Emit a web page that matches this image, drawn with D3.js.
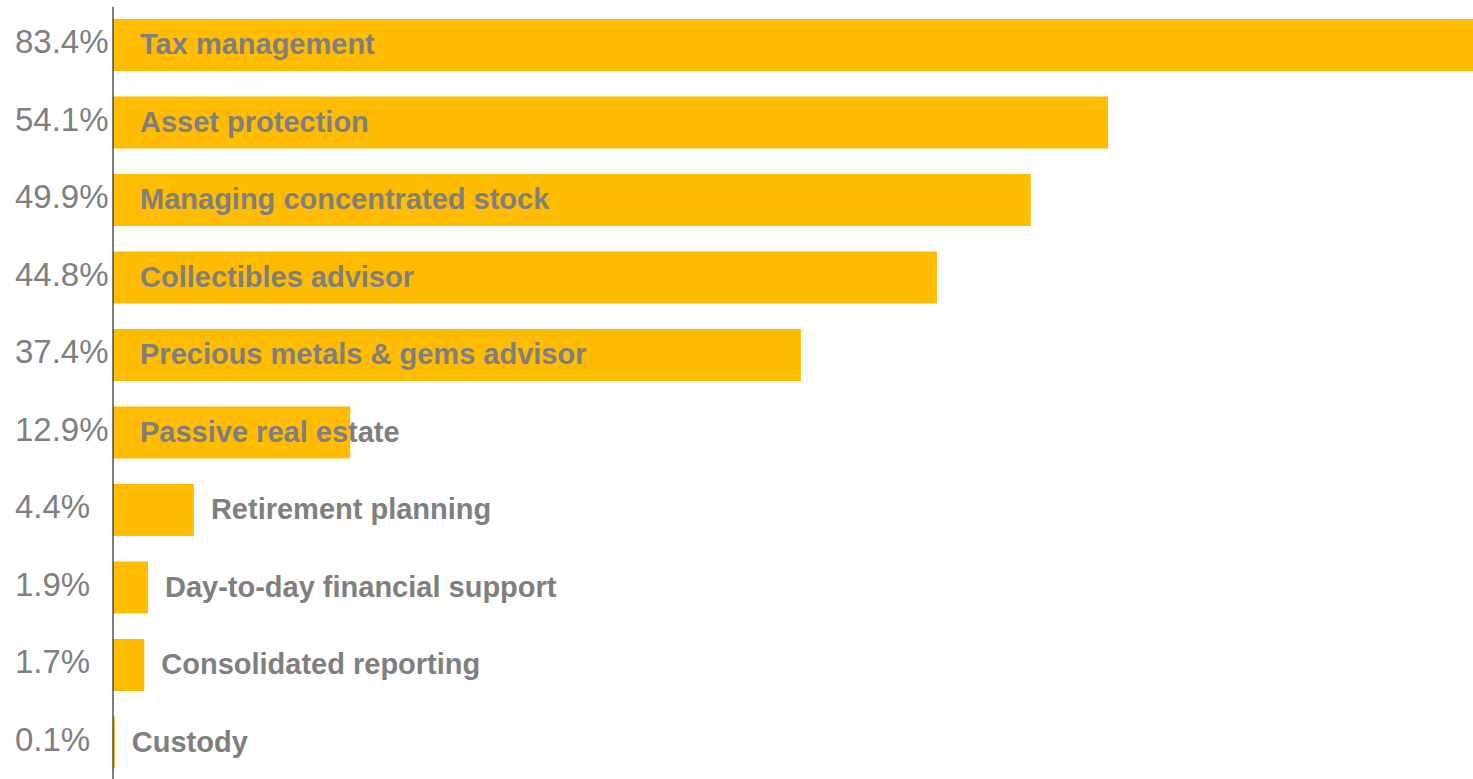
<!DOCTYPE html>
<html>
<head>
<meta charset="utf-8">
<script src="https://cdn.jsdelivr.net/npm/d3@7"></script>
<style>
  html, body { margin: 0; padding: 0; background: #fff; overflow: hidden; }
  svg { display: block; overflow: hidden; }
</style>
</head>
<body>
<script>
// Services wanted, share of respondents (%)
const categories = [
  "Tax management",
  "Asset protection",
  "Managing concentrated stock",
  "Collectibles advisor",
  "Precious metals & gems advisor",
  "Passive real estate",
  "Retirement planning",
  "Day-to-day financial support",
  "Consolidated reporting",
  "Custody"
];
const shares = [83.4, 54.1, 49.9, 44.8, 37.4, 12.9, 4.4, 1.9, 1.7, 0.1];

const W = 1473, H = 779;
const barColor = "#FFBC00";
const textColor = "#7F7F7F";

const rows = categories.map((c, i) => ({ name: c, value: shares[i] }));

const svg = d3.select("body").append("svg")
  .attr("width", W).attr("height", H);

const x = d3.scaleLinear().domain([0, 74]).range([113, 1474]);
const y = d3.scaleBand().domain(categories)
  .range([6.25, 781.25]).paddingInner(0.329).paddingOuter(0.1645);

const fmt = v => d3.format(".1f")(v) + "%";

// bars
svg.append("g").selectAll("rect").data(rows).join("rect")
  .attr("x", x(0))
  .attr("y", d => y(d.name))
  .attr("width", d => x(d.value) - x(0))
  .attr("height", y.bandwidth())
  .attr("fill", barColor);

// vertical axis line (no ticks)
const axis = svg.append("g")
  .attr("transform", "translate(112.5,0)")
  .call(d3.axisLeft(y).tickSize(0).tickFormat(""));
axis.select(".domain").attr("stroke", "#000").attr("stroke-width", 1);

// percentage labels on the left
svg.append("g").selectAll("text").data(rows).join("text")
  .attr("x", 15)
  .attr("y", d => y(d.name) + y.bandwidth() / 2 + 8)
  .style("font-family", "Arial, 'Liberation Sans', sans-serif")
  .style("font-size", "33px")
  .attr("fill", textColor)
  .text(d => fmt(d.value));

// category labels: inside the bar for the larger shares, after the bar otherwise
svg.append("g").selectAll("text").data(rows).join("text")
  .attr("x", d => d.value >= 10 ? x(0) + 27 : x(d.value) + 17)
  .attr("y", d => y(d.name) + y.bandwidth() / 2 + 9)
  .style("font-family", "Arial, 'Liberation Sans', sans-serif")
  .style("font-weight", "bold")
  .style("font-size", "29px")
  .attr("fill", textColor)
  .text(d => d.name);
</script>
</body>
</html>
